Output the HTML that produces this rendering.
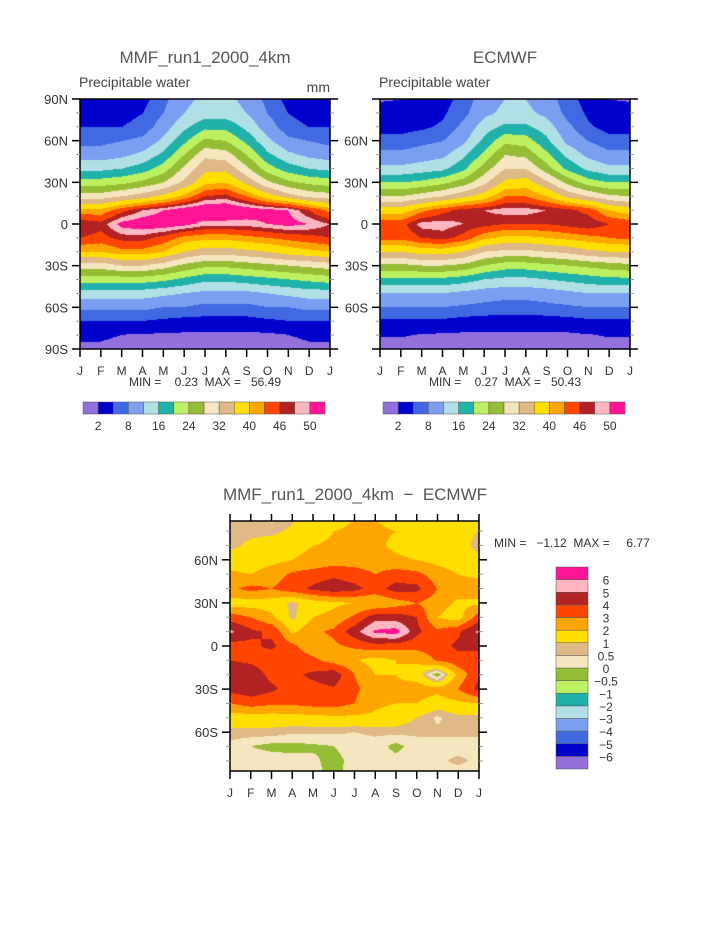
<!DOCTYPE html>
<html><head><meta charset="utf-8">
<style>
body{margin:0;background:#fff;width:723px;height:935px;overflow:hidden;position:relative;font-family:"Liberation Sans",sans-serif}
canvas{position:absolute}
svg{position:absolute;left:0;top:0}
text{white-space:pre}
</style></head>
<body>
<canvas id="c1" width="250" height="250" style="left:80px;top:99px"></canvas>
<canvas id="c2" width="250" height="250" style="left:380px;top:99px"></canvas>
<canvas id="c3" width="249" height="250" style="left:230px;top:521px"></canvas>
<svg id="ov" width="723" height="935"></svg>
<script>
const months=["J","F","M","A","M","J","J","A","S","O","N","D","J"];
const lats=[90,80,70,60,50,40,30,20,10,0,-10,-20,-30,-40,-50,-60,-70,-80,-90];
const colors=["#9370db","#0000cd","#4169e1","#7b9ef0","#b0e0e6","#20b2aa","#bdf060","#95bd35","#f5e6c0","#deb887","#ffde00","#ffa500","#ff4500","#b22222","#ffb6c1","#ff1493"];
const pwLevels=[2,5,8,12,16,20,24,28,32,36,40,43,46,48,50];
const pwLabels=["2","8","16","24","32","40","46","50"];
const diffLevels=[-6,-5,-4,-3,-2,-1,-0.5,0,0.5,1,2,3,4,5,6];
const diffLabels=["6","5","4","3","2","1","0.5","0","\u22120.5","\u22121","\u22122","\u22123","\u22124","\u22125","\u22126"];
const mmf=[
[3,3,3,4,7,11,13,13,11,7,4,3,3],
[3,3,4,5,8,12,14,14,12,8,5,4,3],
[5,5,5,6,10,15,19,19,15,10,6,5,5],
[7,7,8,9,13,19,25,24,19,13,9,8,7],
[10,10,11,13,17,24,31,30,24,17,13,11,10],
[15,15,16,18,22,29,35,35,29,22,18,16,15],
[22,22,23,25,28,33,39,40,35,29,25,23,22],
[30,30,32,34,37,41,46,47,43,38,34,31,30],
[41,41,45,48,50,52,53,53,52,51,50,46,42],
[48,47,51,52,52,51,49,49,49,50,51,50,48],
[46,45,47,47,45,42,41,41,42,43,44,45,46],
[40,40,42,42,40,36,34,34,35,36,38,39,40],
[30,30,32,32,30,27,25,25,26,27,28,29,30],
[22,22,22,22,21,19,17,17,18,19,20,21,22],
[14,14,14,14,13,12,11,11,11,12,13,14,14],
[9,9,9,9,8,8,7,7,7,8,8,9,9],
[5,5,5,5,4.5,4,4,4,4,4.5,5,5,5],
[2.5,2.5,2,1.8,1.7,1.6,1.5,1.5,1.5,1.6,2,2.5,2.5],
[1.5,1.5,1,1,1,1,1,1,1,1,1,1.5,1.5]];
const ecmwf=[
[1.8,2,3,4,6,10,12,12,10,6,4,2,1.8],
[3,3,3.5,4.5,7,11,13,13,11,7,4.5,3,3],
[4,4,4.5,5.5,9,14,17,17,14,9,5.5,4,4],
[6,6,7,8,11,17,23,22,17,11,8,6,6],
[9,9,10,11,15,21,28,27,21,15,11,9,9],
[13,13,14,15,19,26,32,32,26,19,15,13,13],
[20,20,21,23,26,31,37,38,33,27,22,20,20],
[28,28,30,32,35,38,43,43,40,35,32,29,28],
[38,38,42,45,47,48,49,49,48,47,45,40,38],
[45,45,49,49,48,47,46,46,46,47,48,46,45],
[44,44,46,47,45,41,39,39,40,41,42,43,44],
[36,36,38,38,36,32,31,31,32,33,35,36,36],
[27,27,28,28,27,24,22,22,23,24,25,26,27],
[19,19,19,19,18,16,15,15,16,17,18,19,19],
[12,12,12,12,11,10,9.5,9.5,10,11,12,12,12],
[8,8,8,8,7.5,7,6.5,6.5,7,7.5,8,8,8],
[4.5,4.5,4.5,4.5,4,3.8,3.8,3.8,3.8,4,4.5,4.5,4.5],
[2.2,2.2,1.9,1.7,1.6,1.5,1.5,1.5,1.5,1.6,1.9,2.2,2.2],
[1.2,1.2,1,1,1,1,1,1,1,1,1,1.2,1.2]];
const diff=[
[0.7,0.7,0.3,0.8,1.5,1.5,2,2,1.5,1.5,1.2,1.2,1.2],
[0.7,0.8,0.8,1.2,1.5,2,2.2,2.2,2,1.5,1.2,1.2,1],
[0.8,1.2,1.5,1.8,2,2.2,2.2,2.2,1.8,1.5,1.5,1.3,0.8],
[1.5,1.5,1.7,2,2.2,2.5,2.5,2.5,2.2,2,1.7,1.5,1.2],
[2.2,2,2.5,3.2,3.5,3.8,3.5,3,3.5,3.3,2.5,2,1.8],
[2.8,3.3,3,3.6,4.2,4.6,4.3,3.6,4.4,4.3,3,2.5,2.5],
[1.5,1.5,1.5,0.8,1.5,1.8,2,2,2.5,3,2.5,1.8,1.8],
[3.5,3,2.2,0.8,2,2.3,3.2,4.6,4.5,4,2,1.5,3.5],
[5.2,4.2,3.8,1.8,2.8,3.2,4.6,6.2,6.5,4.3,3.2,3.8,5.2],
[3.5,3.8,4.2,3.2,2.4,2.8,3.2,3.6,3.4,3.3,3.6,4.2,4],
[4,3.8,3.4,3.6,3.2,2.6,2.1,1.6,2,2.2,3.1,3.6,4],
[4.6,4.6,3.7,3.8,4.2,4.6,3,2,2,1.5,-0.5,2.3,3.8],
[4.4,4.6,4.2,3.5,3.7,3.9,3.2,2.5,2.2,2.5,2.3,3,4.3],
[3,3.5,3.2,3.2,3.4,3.5,3,2.2,2,2,1.5,1.8,2],
[1.5,1.5,1.5,1.6,1.7,1.8,1.8,1.8,1.5,1,0.4,0.8,0.8],
[0.8,0.8,0.8,0.6,0.6,0.6,0.5,0.6,0.7,0.6,0.6,0.6,0.6],
[0.3,0,-0.2,-0.2,-0.1,0,0.3,0.3,-0.2,0.3,0.3,0.3,0.3],
[0.5,0.3,0.3,0.2,0.1,-0.2,0.2,0.3,0.2,0.3,0.4,0.6,0.4],
[0.3,0.1,0,0,0.2,-0.2,0.3,0.3,0.1,0.2,0.3,0.3,0.3]];

function hex(c){return [parseInt(c.substr(1,2),16),parseInt(c.substr(3,2),16),parseInt(c.substr(5,2),16)];}
const rgb=colors.map(hex);
function level(v,lv){let i=0;while(i<lv.length&&v>=lv[i])i++;return i;}
function sample(f,m,lat){
  const r=(90-lat)/10;const r0=Math.max(0,Math.min(17,Math.floor(r)));const fr=r-r0;
  const c0=Math.max(0,Math.min(11,Math.floor(m)));const fc=m-c0;
  const a=f[r0][c0],b=f[r0][c0+1],c=f[r0+1][c0],d=f[r0+1][c0+1];
  return a*(1-fr)*(1-fc)+b*(1-fr)*fc+c*fr*(1-fc)+d*fr*fc;
}
function paint(id,f,lv,latTop,latBot){
  const cv=document.getElementById(id),ctx=cv.getContext('2d');
  const W=cv.width,H=cv.height,img=ctx.createImageData(W,H);
  for(let y=0;y<H;y++)for(let x=0;x<W;x++){
    const m=x/(W-1)*12, lat=latTop-(y/(H-1))*(latTop-latBot);
    const col=rgb[level(sample(f,m,lat),lv)];const k=(y*W+x)*4;
    img.data[k]=col[0];img.data[k+1]=col[1];img.data[k+2]=col[2];img.data[k+3]=255;}
  ctx.putImageData(img,0,0);
}
paint('c1',mmf,pwLevels,90,-90);
paint('c2',ecmwf,pwLevels,90,-90);
paint('c3',diff,diffLevels,87,-87);

const NS="http://www.w3.org/2000/svg",ov=document.getElementById('ov');
function el(t,a,txt){const e=document.createElementNS(NS,t);for(const k in a)e.setAttribute(k,a[k]);if(txt!==undefined)e.textContent=txt;ov.appendChild(e);return e;}
function txt(x,y,s,size,anchor,name,fill){
  const e=el('text',{x:x,y:y,'font-size':size,'text-anchor':anchor||'middle',fill:fill||'#333','font-family':'Liberation Sans, sans-serif'},s);
  
  return e;}
function line(x1,y1,x2,y2,w,c){el('line',{x1:x1,y1:y1,x2:x2,y2:y2,stroke:c||'#000','stroke-width':w||1});}

function axes(x0,y0,w,h,latTop,latBot,ylabels,topTicks,pfx){
  const fr=el('rect',{x:x0,y:y0,width:w,height:h,fill:'none',stroke:'#000','stroke-width':1.5});
  
  
  const ly=l=>y0+(latTop-l)/(latTop-latBot)*h;
  for(let l=-90;l<=90;l+=10){ if(l>latTop||l<latBot)continue;
    const y=ly(l);const maj=(l%30===0);
    line(x0-(maj?8:4),y,x0,y,maj?1.5:1,maj?'#000':'#999');
    line(x0+w,y,x0+w+(maj?8:4),y,maj?1.5:1,maj?'#000':'#999');}
  ylabels.forEach(l=>{const s=l===0?'0':(Math.abs(l)+(l>0?'N':'S'));
    txt(x0-12,ly(l)+5,s,13,'end',pfx+'-y-label-'+s.toLowerCase());});
  months.forEach((m,i)=>{const x=x0+i*w/12;line(x,y0+h,x,y0+h+8,1.5);
    if(topTicks)line(x,y0,x,y0-7,1.5);
    txt(x,y0+h+26,m,12,'middle',pfx+'-x-label-'+i);});
}
axes(80,99,250,250,90,-90,[90,60,30,0,-30,-60,-90],false,'mmf');
axes(380,99,250,250,90,-90,[60,30,0,-30,-60],false,'ecmwf');
axes(230,521,249,250,87,-87,[60,30,0,-30,-60],true,'diff');

txt(205,63,'MMF_run1_2000_4km',17,'middle','mmf-title','#555');
txt(79,87,'Precipitable water',14,'start','mmf-subtitle','#444');
txt(330,92,'mm',14,'end','units-label','#444');
txt(205,386,'MIN =    0.23  MAX =   56.49',12,'middle','mmf-min-max','#333');
txt(505,63,'ECMWF',17,'middle','ecmwf-title','#555');
txt(379,87,'Precipitable water',14,'start','ecmwf-subtitle','#444');
txt(505,386,'MIN =    0.27  MAX =   50.43',12,'middle','ecmwf-min-max','#333');
txt(355,500,'MMF_run1_2000_4km  \u2212  ECMWF',17,'middle','diff-title','#555');
txt(494,547,'MIN =   \u22121.12  MAX =     6.77',12,'start','diff-min-max','#333');

function hbar(x0,pfx){
  const bw=242/16;
  colors.forEach((c,i)=>{const r=el('rect',{x:x0+i*bw,y:402,width:bw,height:12,fill:c,stroke:'#555','stroke-width':0.5});
    
    });
  pwLabels.forEach((s,j)=>{txt(x0+(1+2*j)*bw,430,s,12,'middle',pfx+'-colorbar-label');});
}
hbar(83,'mmf');hbar(383,'ecmwf');
const vh=202/16;
colors.forEach((c,i)=>{const r=el('rect',{x:556,y:567+(15-i)*vh,width:32,height:vh,fill:c,stroke:'#555','stroke-width':0.5});
  
  });
diffLabels.forEach((s,j)=>{txt(606,567+(j+1)*vh+5,s,12,'middle','diff-colorbar-label');});
</script>
</body></html>
